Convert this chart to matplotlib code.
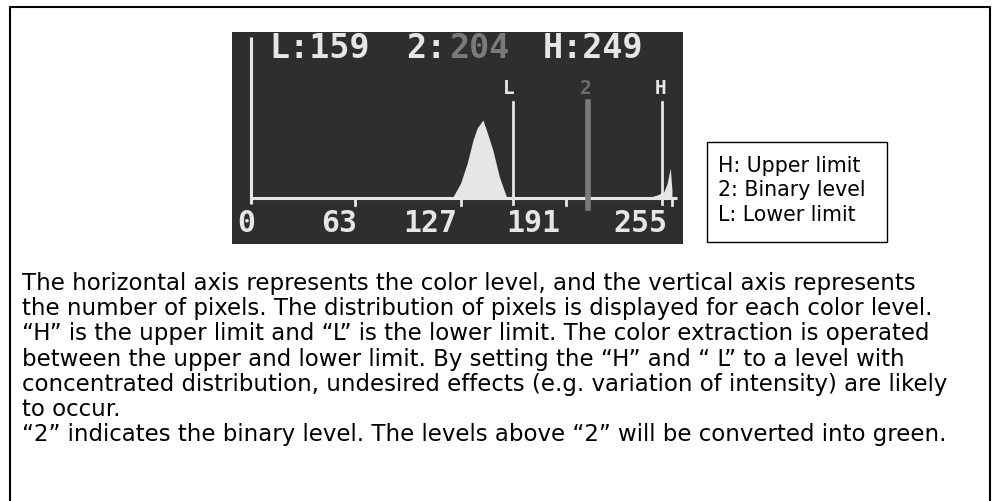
import matplotlib
matplotlib.use("Agg")
import matplotlib.pyplot as plt
import numpy as np

# Histogram of pixel counts per colour level (0-255)
levels = [118, 122, 127, 131, 134.5, 137, 140.5, 143, 146.5, 150.5, 155, 159,
          240, 246, 250, 252, 254, 255]
counts = [0, 0, 15, 35, 58, 70, 78, 66, 48, 21, 0, 0,
          0, 3, 6, 14, 30, 8]

tick_values = [0, 63, 127, 191, 255]
tick_labels = ["0", "63", "127", "191", "255"]

lower_limit = 159
binary_level = 204
upper_limit = 249

legend_lines = ["H: Upper limit", "2: Binary level", "L: Lower limit"]

body_lines = [
    "The horizontal axis represents the color level, and the vertical axis represents",
    "the number of pixels. The distribution of pixels is displayed for each color level.",
    "\u201cH\u201d is the upper limit and \u201cL\u201d is the lower limit. The color extraction is operated",
    "between the upper and lower limit. By setting the \u201cH\u201d and \u201c L\u201d to a level with",
    "concentrated distribution, undesired effects (e.g. variation of intensity) are likely",
    "to occur.",
    "\u201c2\u201d indicates the binary level. The levels above \u201c2\u201d will be converted into green.",
]

W, H = 997, 501
fig = plt.figure(figsize=(W / 100, H / 100), dpi=100)
fig.patch.set_facecolor("white")


def fx(px):
    return px / W


def fy(py):
    return 1 - py / H


# outer frame (open at the bottom edge)
fig.add_artist(plt.Line2D([fx(10), fx(10), fx(990), fx(990)],
                          [fy(501), fy(7), fy(7), fy(501)],
                          color="black", lw=1.5, transform=fig.transFigure))

# histogram display panel
px0, px1, py0, py1 = 232, 683, 32, 244
ax = fig.add_axes([fx(px0), fy(py1), fx(px1 - px0), (py1 - py0) / H])
ax.set_facecolor("#2e2e2e")
for s in ax.spines.values():
    s.set_visible(False)
ax.set_xticks([])
ax.set_yticks([])
ax.set_xlim(-11.5, 261.7)
ax.set_ylim(-46, 166)

fg = "#e6e6e6"
ax.fill_between(levels, counts, 0, color=fg, lw=0)
# axes of the histogram
ax.plot([0, 0], [-6, 161], color=fg, lw=2.2, solid_capstyle="butt")
ax.plot([0, 258], [0, 0], color=fg, lw=2.2, solid_capstyle="butt")
for t in tick_values[1:]:
    ax.plot([t, t], [0, -7], color=fg, lw=2)
# tick labels sit just left of their tick, right-aligned
label_nudge = [2.4, 1.2, -2.2, -3.8, -3.0]
for t, lab, dx in zip(tick_values, tick_labels, label_nudge):
    ax.text(t + dx, -25, lab, color=fg, ha="right", va="center",
            fontsize=21.5, family="DejaVu Sans Mono", fontweight="bold")

# threshold markers
ax.plot([lower_limit, lower_limit], [-6, 96], color=fg, lw=2)
ax.plot([binary_level, binary_level], [-10, 96], color="#7a7a7a", lw=4)
ax.plot([upper_limit, upper_limit], [-6, 96], color=fg, lw=2)
mk = dict(ha="center", va="center", fontsize=14, family="DejaVu Sans Mono",
          fontweight="bold")
ax.text(lower_limit - 3, 110, "L", color=fg, **mk)
ax.text(binary_level - 1, 110, "2", color="#6e6e6e", **mk)
ax.text(upper_limit - 1, 110, "H", color=fg, **mk)

top = dict(va="center", fontsize=24, family="DejaVu Sans Mono", fontweight="bold")
ax.text(11, 149, f"L:{lower_limit}", color=fg, ha="left", **top)
ax.text(94, 149, "2:", color=fg, ha="left", **top)
ax.text(120, 149, f"{binary_level}", color="#7a7a7a", ha="left", **top)
ax.text(177, 149, f"H:{upper_limit}", color=fg, ha="left", **top)

# legend box
fig.add_artist(plt.Rectangle((fx(707), fy(242)), fx(887 - 707), (242 - 142) / H,
                             fill=False, ec="black", lw=1.0,
                             transform=fig.transFigure))
for i, line in enumerate(legend_lines):
    fig.text(fx(718), fy(172 + i * 24.5), line, ha="left", va="baseline",
             fontsize=14.8, family="DejaVu Sans", color="black")

# explanatory text
for i, line in enumerate(body_lines):
    fig.text(fx(22), fy(290 + i * 25.2), line, ha="left", va="baseline",
             fontsize=16.5, family="DejaVu Sans", color="black")

fig.savefig("out.png", dpi=100, facecolor="white")
